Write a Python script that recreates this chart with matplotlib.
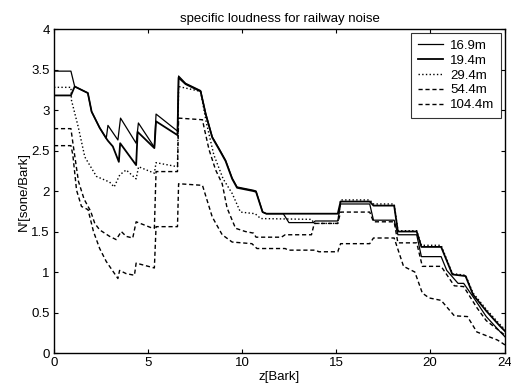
import matplotlib
matplotlib.use("Agg")
import matplotlib.pyplot as plt

plt.rcParams['font.family'] = ['Liberation Sans', 'DejaVu Sans']

labels = ["16.9m", "19.4m", "29.4m", "54.4m", "104.4m"]

# breakpoints (z in Bark, N' in sone/Bark)
z_169 = [0, 0.9, 1.1, 1.8, 2.0, 2.43, 2.78, 2.87, 3.4, 3.54, 4.37, 4.49, 5.34, 5.43,
         6.57, 6.63, 7.0, 7.8, 8.07, 8.42, 8.77, 9.13, 9.48, 9.74, 10.6, 10.75, 11.1,
         11.3, 12.2, 12.5, 13.8, 13.9, 15.1, 15.25, 16.8, 17.0, 18.1, 18.3, 19.3, 19.55,
         20.6, 20.9, 21.5, 21.8, 22.4, 23.0, 23.75, 24.0]
n_169 = [3.48, 3.48, 3.29, 3.21, 2.98, 2.78, 2.65, 2.81, 2.63, 2.90, 2.59, 2.84, 2.54, 2.95,
         2.74, 3.42, 3.33, 3.24, 2.96, 2.67, 2.53, 2.38, 2.16, 2.05, 2.01, 2.00, 1.74,
         1.72, 1.72, 1.61, 1.61, 1.63, 1.63, 1.84, 1.84, 1.64, 1.64, 1.46, 1.46, 1.19,
         1.19, 1.02, 0.86, 0.86, 0.66, 0.45, 0.26, 0.2]

z_194 = [0, 0.9, 1.1, 1.8, 2.0, 2.43, 2.78, 2.87, 3.13, 3.45, 3.52, 4.37, 4.45, 5.34, 5.43,
         6.57, 6.63, 7.0, 7.8, 8.07, 8.42, 8.77, 9.13, 9.48, 9.74, 10.6, 10.75, 11.1,
         11.3, 15.1, 15.25, 16.8, 17.0, 18.1, 18.3, 19.3, 19.55, 20.6, 21.2, 21.9, 22.3,
         23.0, 23.7, 24.0]
n_194 = [3.18, 3.18, 3.29, 3.21, 2.98, 2.78, 2.65, 2.62, 2.55, 2.36, 2.59, 2.32, 2.73, 2.53, 2.86,
         2.69, 3.40, 3.32, 3.23, 2.95, 2.66, 2.52, 2.37, 2.15, 2.04, 2.00, 1.99, 1.74,
         1.72, 1.72, 1.87, 1.87, 1.82, 1.82, 1.50, 1.50, 1.31, 1.31, 0.97, 0.95, 0.72,
         0.52, 0.34, 0.27]

z_294 = [0, 0.9, 0.93, 1.29, 1.64, 2.26, 2.96, 3.2, 3.5, 3.84, 4.37, 4.5, 5.34, 5.43, 6.57,
         6.63, 7.8, 8.1, 8.5, 9.0, 9.48, 9.92, 10.7, 11.0, 13.7, 13.85, 15.1, 15.25, 16.8,
         17.0, 18.1, 18.3, 19.3, 19.55, 20.6, 21.2, 21.9, 22.3, 23.0, 23.7, 24.0]
n_294 = [3.28, 3.28, 3.12, 2.79, 2.42, 2.18, 2.11, 2.05, 2.2, 2.26, 2.15, 2.3, 2.22, 2.35, 2.3,
         3.29, 3.23, 2.85, 2.45, 2.15, 1.97, 1.74, 1.72, 1.66, 1.65, 1.6, 1.6, 1.89, 1.89,
         1.84, 1.84, 1.51, 1.51, 1.33, 1.33, 0.98, 0.96, 0.74, 0.54, 0.36, 0.29]

z_544 = [0, 0.9, 1.0, 1.3, 1.6, 1.95, 2.17, 2.43, 2.96, 3.31, 3.58, 3.84, 4.19, 4.37,
         5.25, 5.34, 5.43, 6.57, 6.63, 7.9, 7.98, 8.25, 8.6, 8.95, 9.21, 9.66, 10.18, 10.62,
         10.75, 12.1, 12.3, 13.7, 13.85, 15.1, 15.25, 16.8, 17.0, 18.1, 18.3, 19.3, 19.6,
         20.6, 21.3, 21.8, 22.5, 23.0, 24.0]
n_544 = [2.77, 2.77, 2.60, 2.12, 1.90, 1.75, 1.60, 1.52, 1.44, 1.40, 1.50, 1.44, 1.42, 1.62,
         1.54, 1.54, 2.24, 2.24, 2.90, 2.88, 2.79, 2.51, 2.26, 2.09, 1.79, 1.54, 1.50, 1.48,
         1.43, 1.43, 1.46, 1.46, 1.60, 1.60, 1.74, 1.74, 1.62, 1.62, 1.36, 1.36, 1.07,
         1.07, 0.83, 0.82, 0.56, 0.40, 0.22]

z_1044 = [0, 0.9, 1.0, 1.2, 1.46, 1.81, 2.1, 2.43, 2.78, 3.4, 3.49, 3.84, 4.28, 4.37, 5.34, 5.43,
          6.57, 6.63, 7.9, 8.42, 8.95, 9.48, 10.53, 10.8, 12.3, 12.47, 13.9, 14.1, 15.1,
          15.25, 16.8, 17.0, 18.1, 18.6, 19.2, 19.6, 19.96, 20.6, 21.3, 22.0, 22.5, 23.6, 24.0]
n_1044 = [2.56, 2.56, 2.45, 2.01, 1.81, 1.77, 1.5, 1.29, 1.13, 0.92, 1.02, 0.98, 0.96, 1.11, 1.05, 1.56,
          1.56, 2.09, 2.07, 1.68, 1.46, 1.37, 1.35, 1.29, 1.29, 1.27, 1.27, 1.25, 1.25,
          1.35, 1.35, 1.42, 1.42, 1.07, 1.0, 0.74, 0.68, 0.65, 0.46, 0.45, 0.26, 0.16, 0.1]

series = [(z_169, n_169), (z_194, n_194), (z_294, n_294), (z_544, n_544), (z_1044, n_1044)]
styles = ['-', '-', ':', (0, (3, 2)), (0, (3, 2))]
widths = [0.9, 1.3, 1.0, 1.0, 1.0]

fig = plt.figure(figsize=(5.11, 3.89), dpi=100)
ax = fig.add_axes([0.1057, 0.0925, 0.8826, 0.8329])

for (z, n), lab, ls, lw in zip(series, labels, styles, widths):
    ax.plot(z, n, color='black', linestyle=ls, linewidth=lw, label=lab)

ax.set_xlim(0, 24)
ax.set_ylim(0, 4)
ax.set_xticks([0, 5, 10, 15, 20, 24])
ax.set_yticks([0, 0.5, 1, 1.5, 2, 2.5, 3, 3.5, 4])
ax.set_yticklabels(["0", "0.5", "1", "1.5", "2", "2.5", "3", "3.5", "4"])
ax.tick_params(direction='in', top=True, right=True, labelsize=9.5, length=3, width=0.8, pad=3)
for s in ax.spines.values():
    s.set_linewidth(1.0)

ax.set_title("specific loudness for railway noise", fontsize=9.5, pad=5)
ax.set_xlabel("z[Bark]", fontsize=9.5, labelpad=1)
ax.set_ylabel("N'[sone/Bark]", fontsize=9.5, labelpad=1)

leg = ax.legend(loc='upper right', fontsize=9.5, frameon=True, fancybox=False,
                edgecolor='black', handlelength=1.9, handletextpad=0.55,
                labelspacing=0.2, borderpad=0.5, borderaxespad=0.3)
leg.get_frame().set_linewidth(0.8)

fig.savefig("out.png", dpi=100)
